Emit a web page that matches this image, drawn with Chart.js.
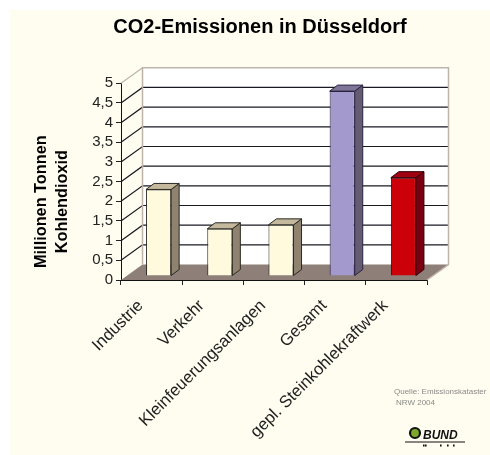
<!DOCTYPE html>
<html>
<head>
<meta charset="utf-8">
<style>
html,body{margin:0;padding:0;background:#FFFFFF;overflow:hidden}
#panel{position:absolute;left:10px;top:10px;width:480px;height:445px;background:#FFFCF0}
#wrap{position:absolute;left:0;top:0;width:490px;height:455px}
</style>
<script src="https://cdn.jsdelivr.net/npm/chart.js@4"></script>
</head>
<body>
<div id="panel"></div>
<div id="wrap"><canvas id="c" width="490" height="455"></canvas></div>
<script>
const categories = ["Industrie","Verkehr","Kleinfeuerungsanlagen","Gesamt","gepl. Steinkohlekraftwerk"];
const emissions = [2.2,1.2,1.3,4.7,2.5];
const yTickLabels = ["0","0,5","1","1,5","2","2,5","3","3,5","4","4,5","5"];
const frontColors = ["#FFF9DE","#FFF9DE","#FFF9DE","#A499CC","#CC0008"];
const sideColors = ["#8F8370","#8F8370","#8F8370","#655B73","#780010"];
const topColors = ["#C4B99C","#C4B99C","#C4B99C","#7F7599","#A00010"];
const edgeColors = ["#2A2A22","#2A2A22","#2A2A22","#2A2440","#30000A"];
const titleText = "CO2-Emissionen in Düsseldorf";
const yTitleLines = ["Millionen Tonnen","Kohlendioxid"];
const sourceLines = ["Quelle: Emissionskataster","NRW 2004"];
const logoText = "BUND";
const FONT = "'Liberation Sans', Arial, sans-serif";

const DX = 21.5, DY = -15.5;       // depth of the 3D box
const BX = 7, BY = -4;             // bar offset into the box
const SX = 8, SY = -6;             // bar depth

const box3d = {
  id: 'box3d',
  afterLayout(chart){
    // title is centred over the plot rather than the page
    const t = chart.titleBlock;
    t.left = 30; t.right = 490;
  },
  beforeDatasetsDraw(chart){
    const {ctx, scales:{x,y}} = chart;
    const l = x.left, r = x.right, b = y.bottom, t = y.top;
    ctx.save();
    ctx.fillStyle = '#FFFFFF';
    ctx.fillRect(l+DX, t+DY, r-l, b-t);
    ctx.fillStyle = '#8E7F78';
    ctx.beginPath();
    ctx.moveTo(l,b); ctx.lineTo(r,b); ctx.lineTo(r+DX,b+DY); ctx.lineTo(l+DX,b+DY); ctx.closePath(); ctx.fill();
    y.ticks.forEach(tk=>{
      if (tk.value===0) return;
      const p = y.getPixelForValue(tk.value);
      ctx.strokeStyle = tk.value===5 ? '#BDB5AC' : '#1A1A24';
      ctx.lineWidth = 1.2;
      ctx.beginPath();
      ctx.moveTo(l,p); ctx.lineTo(l+DX,p+DY);
      if (tk.value<5) ctx.lineTo(r+DX,p+DY);
      ctx.stroke();
    });
    ctx.strokeStyle = '#BDB5AC'; ctx.lineWidth = 1.5;
    ctx.beginPath();
    ctx.moveTo(l+DX,b+DY); ctx.lineTo(l+DX,t+DY); ctx.lineTo(r+DX,t+DY); ctx.lineTo(r+DX,b+DY);
    ctx.lineTo(r,b);
    ctx.stroke();
    ctx.restore();
  },
  beforeDatasetDraw(chart, args){
    const {ctx} = chart;
    const meta = chart.getDatasetMeta(args.index);
    ctx.save();
    ctx.translate(BX, BY);
    meta.data.forEach((el,i)=>{
      const p = el.getProps(['x','y','base','width'], true);
      const x0 = p.x-p.width/2, x1 = p.x+p.width/2, yt = p.y, yb = p.base;
      ctx.lineWidth = 1; ctx.strokeStyle = edgeColors[i];
      ctx.fillStyle = sideColors[i];
      ctx.beginPath();
      ctx.moveTo(x1,yb); ctx.lineTo(x1+SX,yb+SY); ctx.lineTo(x1+SX,yt+SY); ctx.lineTo(x1,yt); ctx.closePath();
      ctx.fill(); ctx.stroke();
      ctx.fillStyle = topColors[i];
      ctx.beginPath();
      ctx.moveTo(x0,yt); ctx.lineTo(x0+SX,yt+SY); ctx.lineTo(x1+SX,yt+SY); ctx.lineTo(x1,yt); ctx.closePath();
      ctx.fill(); ctx.stroke();
    });
  },
  afterDatasetDraw(chart){
    chart.ctx.restore();
  },
  afterDraw(chart){
    const {ctx} = chart;
    ctx.save();
    ctx.fillStyle = '#8A8A86';
    ctx.font = "8px "+FONT;
    ctx.textBaseline = 'middle';
    ctx.fillText(sourceLines[0], 394, 392);
    ctx.fillText(sourceLines[1], 396, 403);
    ctx.beginPath(); ctx.arc(415,433,5,0,Math.PI*2);
    ctx.fillStyle = '#7DA82A'; ctx.fill();
    ctx.lineWidth = 2.2; ctx.strokeStyle = '#111'; ctx.stroke();
    ctx.fillStyle = '#111';
    ctx.font = "italic bold 12px "+FONT;
    ctx.fillText(logoText, 423, 436);
    ctx.fillRect(405,441.5,60,1);
    [423,425,440,447,453].forEach(px=>ctx.fillRect(px,444.5,1.6,2));
    ctx.restore();
  }
};

new Chart(document.getElementById('c'), {
  type:'bar',
  plugins:[box3d],
  data:{
    labels:categories,
    datasets:[{
      data:emissions,
      backgroundColor:frontColors,
      borderColor:edgeColors,
      borderWidth:1,
      categoryPercentage:1,
      barPercentage:0.41,
      clip:false
    }]
  },
  options:{
    responsive:false,
    animation:false,
    layout:{padding:{left:0,right:63,top:0,bottom:0}},
    plugins:{
      legend:{display:false},
      tooltip:{enabled:false},
      title:{
        display:true,
        text:titleText,
        color:'#000',
        font:{family:FONT,size:20,weight:'bold',lineHeight:1.2},
        padding:{top:15.5,bottom:43.8}
      }
    },
    scales:{
      x:{
        grid:{drawOnChartArea:false,drawTicks:true,tickLength:5,color:'#222',offset:true},
        border:{color:'#111'},
        afterFit(s){ s.height = 175; },
        ticks:{
          autoSkip:false,minRotation:45,maxRotation:45,padding:11,labelOffset:-11,
          color:'#1E1E1E',
          font:{family:FONT,size:16.7}
        }
      },
      y:{
        min:0,max:5,
        grid:{drawOnChartArea:false,drawTicks:true,tickLength:5,color:'#222'},
        border:{color:'#111'},
        afterFit(s){
          s.width = 121;
          const base = Object.getPrototypeOf(s).drawTitle;
          s.drawTitle = function(){
            const c = s.ctx; c.save(); c.translate(0,20); base.call(s); c.restore();
          };
        },
        ticks:{
          stepSize:0.5,padding:3,color:'#222',autoSkip:false,
          font:{family:FONT,size:15},
          callback:(v,i)=>yTickLabels[i]
        },
        title:{
          display:true,
          text:yTitleLines,
          color:'#000',
          font:{family:FONT,size:16.3,weight:'bold',lineHeight:1.3},
          padding:{top:31,bottom:0}
        }
      }
    }
  }
});
</script>
</body>
</html>
